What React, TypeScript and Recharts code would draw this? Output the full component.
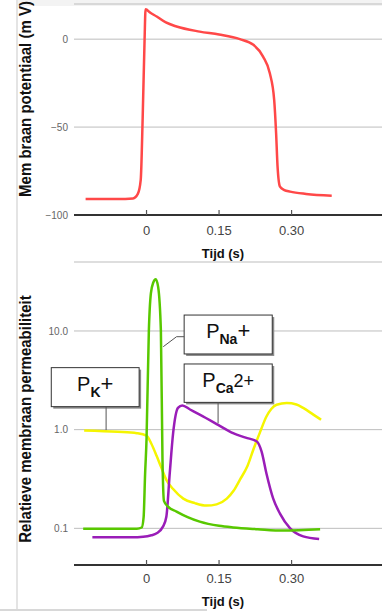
import React from "react";
import {
  LineChart,
  Line,
  XAxis,
  YAxis,
  CartesianGrid,
  ReferenceArea,
  ReferenceLine,
} from "recharts";

// action potential (mV) against time (s)
const apTime = [
  -0.126, -0.06, -0.028, -0.018, -0.012, -0.008, -0.004, -0.002, 0.008, 0.021,
  0.04, 0.062, 0.11, 0.15, 0.193, 0.221, 0.241, 0.255, 0.264, 0.268, 0.271,
  0.276, 0.285, 0.297, 0.33, 0.383,
];
const apMv = [
  -90.9, -90.9, -90.6, -88, -80, -45, 0, 17, 15, 12.9, 9.5, 7.2, 4.3, 2.6, 0,
  -3.2, -9.9, -19.4, -34.5, -53.5, -72.5, -83.9, -85.8, -86.7, -88, -89,
];

// relative permeabilities (log scale)
const kTime = [
  -0.129, -0.06, -0.02, 0, 0.01, 0.021, 0.03, 0.041, 0.055, 0.076, 0.1, 0.124,
  0.145, 0.166, 0.18, 0.193, 0.208, 0.221, 0.235, 0.248, 0.258, 0.269, 0.29,
  0.31, 0.324, 0.345, 0.361,
];
const kValue = [
  0.98, 0.95, 0.92, 0.87, 0.72, 0.54, 0.42, 0.31, 0.25, 0.2, 0.18, 0.17, 0.175,
  0.2, 0.24, 0.31, 0.42, 0.63, 0.95, 1.36, 1.62, 1.79, 1.86, 1.8, 1.66, 1.42,
  1.26,
];

const naTime = [
  -0.131, -0.02, -0.01, -0.006, -0.003, 0, 0.0048, 0.009, 0.014, 0.019, 0.024,
  0.0297, 0.033, 0.036, 0.045, 0.062, 0.085, 0.11, 0.15, 0.179, 0.23, 0.283,
  0.359,
];
const naValue = [
  0.099, 0.099, 0.102, 0.13, 0.35, 0.8, 10, 24, 31, 33.5, 28, 10, 0.5, 0.19,
  0.165, 0.148, 0.13, 0.117, 0.106, 0.102, 0.098, 0.095, 0.098,
];

const caTime = [
  -0.112, -0.03, -0.007, 0.01, 0.021, 0.034, 0.041, 0.048, 0.055, 0.065, 0.074,
  0.09, 0.11, 0.148, 0.179, 0.205, 0.228, 0.238, 0.248, 0.262, 0.276, 0.297,
  0.324, 0.357,
];
const caValue = [
  0.081, 0.081, 0.082, 0.085, 0.089, 0.104, 0.131, 0.36, 0.92, 1.66, 1.76, 1.6,
  1.42, 1.12, 0.92, 0.83, 0.76, 0.6, 0.36, 0.2, 0.141, 0.1, 0.083, 0.078,
];

const timeTicks = [0, 0.15, 0.3];
const timeLabels = ["0", "0.15", "0.30"];
const mvTicks = [-100, -50, 0];
const permTicks = [0.1, 1, 10];

const apData = apTime.map((t, i) => ({ t, v: apMv[i] }));
const kData = kTime.map((t, i) => ({ t, v: kValue[i] }));
const naData = naTime.map((t, i) => ({ t, v: naValue[i] }));
const caData = caTime.map((t, i) => ({ t, v: caValue[i] }));

const FONT = "'Liberation Sans', Arial, sans-serif";
const X_DOMAIN: [number, number] = [-0.15, 0.487];

function makeTimeTick(textDy: number) {
  return function TimeTick(props: any) {
    const { x, y, payload } = props;
    const i = timeTicks.indexOf(payload.value);
    return (
      <g>
        <line x1={x} x2={x} y1={y} y2={y - 5} stroke="#555" strokeWidth={1.2} />
        <text
          x={x}
          y={y + textDy}
          textAnchor="middle"
          fontSize={13}
          fill="#444"
          fontFamily={FONT}
        >
          {i >= 0 ? timeLabels[i] : payload.value}
        </text>
      </g>
    );
  };
}

function YTitle({ cx, cy, text }: { cx: number; cy: number; text: string }) {
  return (
    <text
      transform={`translate(${cx},${cy}) rotate(-90) scale(1,1.15)`}
      textAnchor="middle"
      fontSize={15}
      fontWeight="bold"
      fill="#111"
      fontFamily={FONT}
    >
      {text}
    </text>
  );
}

// callout box: P + subscript + tail ("+" or "2+")
function boxShape(sub: string, tail: string, tailSize: number) {
  return function Box(props: any) {
    const { x, y, width, height } = props;
    return (
      <g>
        <rect x={x + 2} y={y + 2} width={width} height={height} fill="#8a8a8a" />
        <rect
          x={x}
          y={y}
          width={width}
          height={height}
          fill="#fff"
          stroke="#333"
          strokeWidth={1}
        />
        <text
          x={x + width / 2}
          y={y + 23}
          textAnchor="middle"
          fontFamily={FONT}
          fill="#111"
        >
          <tspan fontSize={20}>P</tspan>
          <tspan fontSize={14} fontWeight="bold" dy={6}>
            {sub}
          </tspan>
          <tspan fontSize={tailSize} dy={-6}>
            {tail}
          </tspan>
        </text>
      </g>
    );
  };
}

const axisTick = { fontSize: 10, fill: "#666", fontFamily: FONT };

export default function App() {
  return (
    <div
      style={{
        position: "absolute",
        left: 0,
        top: 0,
        width: 382,
        height: 612,
        background: "#fff",
        overflow: "hidden",
      }}
    >
      <div style={{ position: "absolute", left: 16, top: 0, width: 2, height: 611, background: "#e4e4e4" }} />
      <div style={{ position: "absolute", left: 18, top: 0, width: 364, height: 6, background: "#f3f3f3" }} />
      <div style={{ position: "absolute", left: 0, top: 609, width: 207, height: 2, background: "#d8d8d8" }} />

      <div style={{ position: "absolute", left: 0, top: 0 }}>
        <LineChart
          width={382}
          height={264}
          margin={{ top: 4, right: 0, bottom: 0, left: 0 }}
        >
          <CartesianGrid vertical={false} stroke="#bdbdbd" />
          <XAxis
            dataKey="t"
            type="number"
            domain={X_DOMAIN}
            ticks={timeTicks}
            allowDataOverflow
            height={49}
            axisLine={{ stroke: "#333", strokeWidth: 2 }}
            tickLine={false}
            tickSize={0}
            tickMargin={0}
            tick={makeTimeTick(20)}
            label={{
              value: "Tijd (s)",
              position: "insideBottom",
              offset: 6,
              dx: -5,
              fontSize: 13,
              fontWeight: "bold",
              fill: "#111",
              fontFamily: FONT,
            }}
          />
          <YAxis
            type="number"
            domain={[-100, 20]}
            ticks={mvTicks}
            allowDataOverflow
            width={74}
            axisLine={false}
            tickLine={false}
            tickSize={0}
            tickMargin={6}
            tick={axisTick}
            tickFormatter={(v: number) => String(v).replace("-", "\u2212")}
            label={<YTitle cx={30.5} cy={99} text="Mem braan potentiaal (m V)" />}
          />
          <Line
            data={apData}
            dataKey="v"
            type="monotone"
            stroke="#ff4848"
            strokeWidth={2.5}
            dot={false}
            isAnimationActive={false}
          />
        </LineChart>
      </div>

      <div style={{ position: "absolute", left: 0, top: 256 }}>
        <LineChart
          width={382}
          height={356}
          margin={{ top: 6, right: 0, bottom: 0, left: 0 }}
        >
          <CartesianGrid vertical={false} stroke="#bdbdbd" />
          <XAxis
            dataKey="t"
            type="number"
            domain={X_DOMAIN}
            ticks={timeTicks}
            allowDataOverflow
            height={47}
            axisLine={{ stroke: "#333", strokeWidth: 2 }}
            tickLine={false}
            tickSize={0}
            tickMargin={0}
            tick={makeTimeTick(18)}
            label={{
              value: "Tijd (s)",
              position: "insideBottom",
              offset: 6,
              dx: -5,
              fontSize: 13,
              fontWeight: "bold",
              fill: "#111",
              fontFamily: FONT,
            }}
          />
          <YAxis
            type="number"
            scale="log"
            domain={[0.0425, 50]}
            ticks={permTicks}
            allowDataOverflow
            width={74}
            axisLine={false}
            tickLine={false}
            tickSize={0}
            tickMargin={6}
            tick={axisTick}
            tickFormatter={(v: number) => v.toFixed(1)}
            label={
              <YTitle cx={30.5} cy={163} text="Relatieve membraan permeabiliteit" />
            }
          />
          <Line
            data={kData}
            dataKey="v"
            type="monotone"
            stroke="#f5f500"
            strokeWidth={2.5}
            dot={false}
            isAnimationActive={false}
          />
          <Line
            data={caData}
            dataKey="v"
            type="monotone"
            stroke="#9a1db8"
            strokeWidth={2.5}
            dot={false}
            isAnimationActive={false}
          />
          <Line
            data={naData}
            dataKey="v"
            type="monotone"
            stroke="#58c800"
            strokeWidth={2.5}
            dot={false}
            isAnimationActive={false}
          />

          {/* callout connectors */}
          <ReferenceLine
            segment={[
              { x: -0.0836, y: 1.71 },
              { x: -0.0836, y: 0.99 },
            ]}
            stroke="#555"
            ifOverflow="visible"
          />
          <ReferenceLine
            segment={[
              { x: 0.0778, y: 8.75 },
              { x: 0.0621, y: 8.75 },
            ]}
            stroke="#555"
            ifOverflow="visible"
          />
          <ReferenceLine
            segment={[
              { x: 0.0621, y: 8.75 },
              { x: 0.0346, y: 6.93 },
            ]}
            stroke="#555"
            ifOverflow="visible"
          />
          <ReferenceLine
            segment={[
              { x: 0.148, y: 1.89 },
              { x: 0.148, y: 1.16 },
            ]}
            stroke="#555"
            ifOverflow="visible"
          />

          {/* callout boxes */}
          <ReferenceArea
            x1={-0.197}
            x2={-0.0153}
            y1={1.71}
            y2={4.25}
            ifOverflow="visible"
            shape={boxShape("K", "+", 22)}
          />
          <ReferenceArea
            x1={0.0778}
            x2={0.26}
            y1={5.85}
            y2={14.5}
            ifOverflow="visible"
            shape={boxShape("Na", "+", 22)}
          />
          <ReferenceArea
            x1={0.0778}
            x2={0.26}
            y1={1.89}
            y2={4.63}
            ifOverflow="visible"
            shape={boxShape("Ca", "2+", 18)}
          />
        </LineChart>
      </div>
    </div>
  );
}
